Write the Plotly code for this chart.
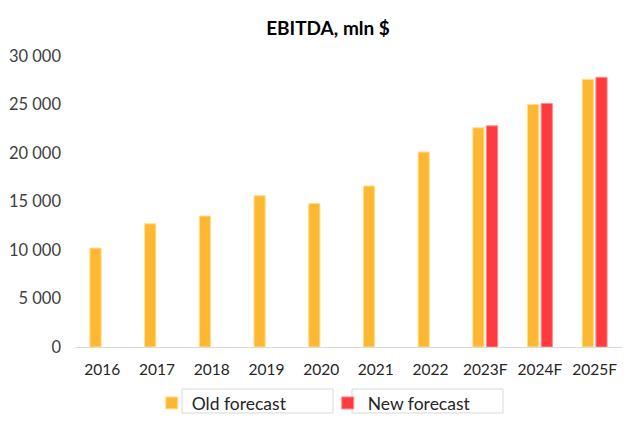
import plotly.graph_objects as go

categories = ["2016", "2017", "2018", "2019", "2020", "2021", "2022", "2023F", "2024F", "2025F"]
old_forecast = [10200, 12700, 13500, 15600, 14800, 16600, 20100, 22600, 25000, 27600]
new_forecast = [None, None, None, None, None, None, None, 22800, 25100, 27800]
y_ticks = [0, 5000, 10000, 15000, 20000, 25000, 30000]
y_tick_labels = ["0", "5 000", "10 000", "15 000", "20 000", "25 000", "30 000"]

FONT = "Lato, 'Open Sans', sans-serif"

fig = go.Figure()
fig.add_trace(go.Bar(
    x=categories, y=old_forecast, name="Old forecast",
    marker=dict(color="#FDB833", line=dict(color="#FFE08A", width=1)),
))
fig.add_trace(go.Bar(
    x=categories, y=new_forecast, name="New forecast",
    marker=dict(color="#FF3B3F", line=dict(color="#FF8A8C", width=1)),
))

fig.update_layout(
    width=640, height=425,
    margin=dict(l=67, r=26, t=48, b=86, autoexpand=False),
    paper_bgcolor="white", plot_bgcolor="white",
    barmode="group", bargap=0.5, bargroupgap=0.18,
    title=dict(text="<b>EBITDA, mln $</b>", x=0.5, xanchor="center", y=0.953, yanchor="middle",
               font=dict(family=FONT, size=19, color="#000000")),
    font=dict(family=FONT, size=15, color="#404040"),
    showlegend=True,
    legend=dict(orientation="h", xref="container", yref="container",
                x=0.2246, xanchor="left", y=0.0705, yanchor="middle",
                font=dict(family=FONT, size=17.5, color="#262626"),
                entrywidth=131, entrywidthmode="pixels", itemwidth=30,
                bgcolor="rgba(0,0,0,0)"),
    xaxis=dict(showgrid=False, showline=True, linecolor="#D9D9D9", linewidth=1,
               automargin=False, ticklabelstandoff=8,
               ticks="", tickfont=dict(family=FONT, size=15.5, color="#262626")),
    yaxis=dict(range=[0, 30000], tickvals=y_ticks, ticktext=y_tick_labels,
               showgrid=False, showline=False, zeroline=False, ticks="",
               automargin=False, ticklabelstandoff=13,
               tickfont=dict(family=FONT, size=16.5, color="#404040")),
)

for x0, x1 in [(0.1956, 0.4717), (0.5064, 0.7824)]:
    fig.add_shape(type="rect", xref="paper", yref="paper",
                  x0=x0, x1=x1, y0=-0.2268, y1=-0.1443,
                  line=dict(color="#D9D9D9", width=1), fillcolor="rgba(0,0,0,0)")

fig.write_html("out.html")
